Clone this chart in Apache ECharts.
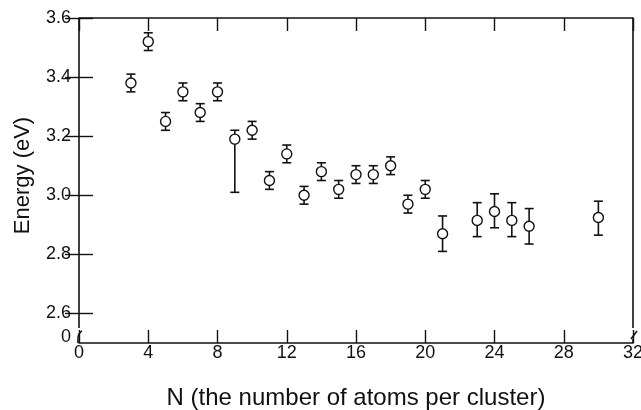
<!DOCTYPE html>
<html>
<head>
    <meta charset="utf-8">
    <title>Energy vs N</title>
    <script src="https://cdn.jsdelivr.net/npm/echarts@6/dist/echarts.min.js"></script>
    <style>
        html, body { margin: 0; padding: 0; background: #ffffff; }
        #chart { width: 641px; height: 410px; }
    </style>
</head>
<body>
<div id="chart"></div>
<script>
    // cluster size N and energy (eV), with error bar ends
    var nValues  = [3, 4, 5, 6, 7, 8, 9, 10, 11, 12, 13, 14, 15, 16, 17, 18, 19, 20, 21, 23, 24, 25, 26, 30];
    var energy   = [3.38, 3.52, 3.25, 3.35, 3.28, 3.35, 3.19, 3.22, 3.05, 3.14, 3.00, 3.08, 3.02, 3.07, 3.07, 3.10, 2.97, 3.02, 2.87, 2.915, 2.945, 2.915, 2.895, 2.925];
    var errUpper = [3.41, 3.55, 3.28, 3.38, 3.31, 3.38, 3.22, 3.25, 3.08, 3.17, 3.03, 3.11, 3.05, 3.10, 3.10, 3.13, 3.00, 3.05, 2.93, 2.975, 3.005, 2.975, 2.955, 2.98];
    var errLower = [3.35, 3.49, 3.22, 3.32, 3.25, 3.32, 3.01, 3.19, 3.02, 3.11, 2.97, 3.05, 2.99, 3.04, 3.04, 3.07, 2.94, 2.99, 2.81, 2.86, 2.89, 2.86, 2.835, 2.865];

    var yTicks  = [2.6, 2.8, 3.0, 3.2, 3.4, 3.6];
    var yLabels = [2.52, 2.6, 2.8, 3.0, 3.2, 3.4, 3.6];   // 2.52 -> "0" (axis break)

    var font = 'Liberation Sans, Arial, Helvetica, sans-serif';
    var ink = '#111111';

    var points = [], bars = [];
    for (var i = 0; i < nValues.length; i++) {
        points.push([nValues[i], energy[i]]);
        bars.push([nValues[i], errUpper[i], errLower[i]]);
    }

    var chart = echarts.init(document.getElementById('chart'), null, {renderer: 'canvas'});

    var xBase = {
        type: 'value', min: 0, max: 32, interval: 4,
        axisLine: {show: true, lineStyle: {color: ink, width: 1.6}},
        axisTick: {show: true, inside: true, length: 13, lineStyle: {color: ink, width: 1.4}},
        splitLine: {show: false}
    };
    var yBase = {
        type: 'value', min: 2.5, max: 3.6, interval: 0.1,
        axisLine: {show: false},
        axisTick: {show: true, inside: true, length: 14, customValues: yTicks, lineStyle: {color: ink, width: 1.4}},
        splitLine: {show: false}
    };

    var option = {
        animation: false,
        grid: {left: 79, right: 8, top: 18, bottom: 67, outerBoundsMode: 'none'},
        xAxis: [
            Object.assign({}, xBase, {
                position: 'bottom',
                name: 'N (the number of atoms per cluster)',
                nameLocation: 'middle',
                nameGap: 43,
                nameTextStyle: {fontFamily: font, fontSize: 24, color: ink},
                axisLabel: {fontFamily: font, fontSize: 18, color: ink, margin: 1}
            }),
            Object.assign({}, xBase, {
                position: 'top',
                axisLabel: {show: false}
            })
        ],
        yAxis: [
            Object.assign({}, yBase, {
                position: 'left',
                name: 'Energy (eV)',
                nameLocation: 'middle',
                nameGap: 45,
                nameTextStyle: {fontFamily: font, fontSize: 22, color: ink, padding: [0, 0, 0, 10]},
                axisLabel: {
                    fontFamily: font, fontSize: 18, color: ink, margin: 8,
                    customValues: yLabels,
                    formatter: function (v) { return v < 2.55 ? '0' : v.toFixed(1); }
                }
            }),
            Object.assign({}, yBase, {
                position: 'right',
                axisLabel: {show: false}
            })
        ],
        series: [
            {
                type: 'custom',
                xAxisIndex: 0, yAxisIndex: 0,
                data: bars,
                z: 2,
                renderItem: function (params, api) {
                    var top = api.coord([api.value(0), api.value(1)]);
                    var bot = api.coord([api.value(0), api.value(2)]);
                    var w = 4.5;
                    var st = {stroke: ink, lineWidth: 1.6};
                    return {
                        type: 'group',
                        children: [
                            {type: 'line', shape: {x1: top[0], y1: top[1], x2: bot[0], y2: bot[1]}, style: st},
                            {type: 'line', shape: {x1: top[0] - w, y1: top[1], x2: top[0] + w, y2: top[1]}, style: st},
                            {type: 'line', shape: {x1: bot[0] - w, y1: bot[1], x2: bot[0] + w, y2: bot[1]}, style: st}
                        ]
                    };
                }
            },
            {
                type: 'scatter',
                xAxisIndex: 0, yAxisIndex: 0,
                data: points,
                symbol: 'circle',
                symbolSize: 10,
                z: 3,
                itemStyle: {color: '#ffffff', borderColor: ink, borderWidth: 1.4, opacity: 1}
            }
        ]
    };
    chart.setOption(option);

    // left / right frame lines with the axis-break marks near the bottom
    var xl = chart.convertToPixel({xAxisIndex: 0}, 0);
    var xr = chart.convertToPixel({xAxisIndex: 0}, 32);
    var yt = chart.convertToPixel({yAxisIndex: 0}, 3.6);
    var yb = chart.convertToPixel({yAxisIndex: 0}, 2.5);
    var frame = {stroke: ink, lineWidth: 1.6, fill: null};
    chart.setOption({
        graphic: [
            {type: 'line', shape: {x1: xl, y1: yt, x2: xl, y2: yb - 15}, style: frame},
            {type: 'bezierCurve', shape: {x1: xl + 3, y1: yb - 12, cpx1: xl - 1, cpy1: yb - 10, x2: xl - 1, y2: yb - 4}, style: frame},
            {type: 'line', shape: {x1: xl - 1, y1: yb - 4, x2: xl - 1, y2: yb}, style: frame},
            {type: 'line', shape: {x1: xr, y1: yt, x2: xr, y2: yb - 15}, style: frame},
            {type: 'line', shape: {x1: xr - 2, y1: yb - 4, x2: xr + 4, y2: yb - 12}, style: frame},
            {type: 'line', shape: {x1: xr, y1: yb - 4, x2: xr, y2: yb}, style: frame}
        ]
    });
</script>
</body>
</html>
